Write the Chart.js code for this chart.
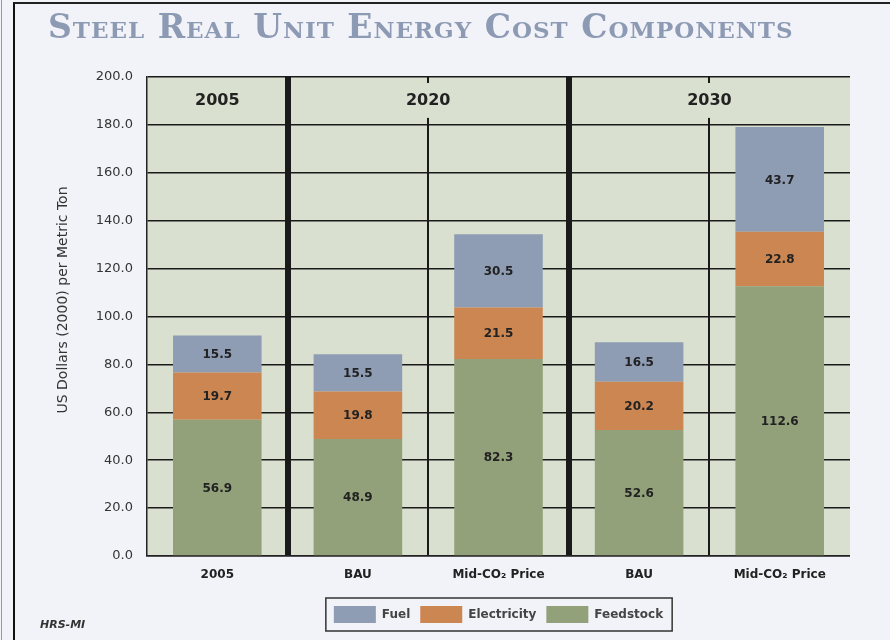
<!DOCTYPE html>
<html>
  <head>
    <meta charset="utf-8">
    <title>Steel Real Unit Energy Cost Components</title>
    <script src="https://cdn.jsdelivr.net/npm/chart.js"></script>
    <style>
      body { margin:0; background:#f2f3f8; }
      #wrap { position:relative; width:890px; height:640px; overflow:hidden; }
      #frame { position:absolute; left:13px; top:2px; width:877px; height:640px; border-left:2px solid #111; border-top:2px solid #222; }
      #edge { position:absolute; left:1px; top:0; width:1px; height:640px; background:#999; }
      #title { position:absolute; left:48px; top:7px; font-family:"DejaVu Serif"; font-weight:bold; font-variant:small-caps; font-size:33px; letter-spacing:1px; color:#8d9ab4; white-space:nowrap; }
      #source { position:absolute; left:40px; top:618px; font-family:"DejaVu Sans"; font-style:italic; font-weight:bold; font-size:11px; color:#333; }
      canvas { position:absolute; left:0; top:0; }
    </style>
  </head>
  <body>
  <div id="wrap">
    <div id="edge"></div>
    <div id="frame"></div>
    <canvas id="SteelChart" width="890" height="640"></canvas>
    <div id="title">Steel Real Unit Energy Cost Components</div>
    <div id="source">HRS-MI</div>
  </div>
  <script>
	var categories = ['2005', 'BAU', 'Mid-CO\u2082 Price', 'BAU', 'Mid-CO\u2082 Price'];
	var groups = ['2005', '2020', '2030'];
	var groupFirst = [0, 1, 3];
	var groupLast = [0, 2, 4];

	var feedstock = [56.9, 48.9, 82.3, 52.6, 112.6];
	var electricity = [19.7, 19.8, 21.5, 20.2, 22.8];
	var fuel = [15.5, 15.5, 30.5, 16.5, 43.7];

	var plotBg = '#d9e0cf';

	// plot background + group header labels + value labels + legend box
	var extras = {
		id : 'extras',
		beforeDraw : function(chart) {
			var a = chart.chartArea, ctx = chart.ctx;
			ctx.save();
			ctx.fillStyle = plotBg;
			ctx.fillRect(a.left, a.top, a.right - a.left, a.bottom - a.top);
			ctx.restore();
		},
		afterDatasetsDraw : function(chart) {
			var ctx = chart.ctx, x = chart.scales.x, y = chart.scales.y;
			ctx.save();
			// value labels
			ctx.font = 'bold 12px "DejaVu Sans"';
			ctx.fillStyle = '#222';
			ctx.textAlign = 'center';
			ctx.textBaseline = 'middle';
			chart.data.datasets.forEach(function(ds, di) {
				chart.getDatasetMeta(di).data.forEach(function(bar, i) {
					ctx.fillText(ds.data[i].toFixed(1), bar.x, (bar.y + bar.base) / 2 + 1);
				});
			});
			// group headers in the 180-200 band
			var yTop = y.getPixelForValue(200), yBot = y.getPixelForValue(180);
			var yMid = (yTop + yBot) / 2;
			ctx.font = 'bold 16px "DejaVu Sans"';
			groups.forEach(function(g, gi) {
				var cx = (x.getPixelForValue(groupFirst[gi]) + x.getPixelForValue(groupLast[gi])) / 2;
				var w = ctx.measureText(g).width + 16;
				ctx.fillStyle = plotBg;
				ctx.fillRect(cx - w / 2, yTop + 6, w, yBot - yTop - 13);
				ctx.fillStyle = '#222';
				ctx.fillText(g, cx, yMid);
			});
			// y axis title
			ctx.translate(63, 300);
			ctx.rotate(-Math.PI / 2);
			ctx.font = '14px "DejaVu Sans"';
			ctx.fillStyle = '#333';
			ctx.fillText('US Dollars (2000) per Metric Ton', 0, 0);
			ctx.restore();
		},
		afterDraw : function(chart) {
			var boxes = chart.legend.legendHitBoxes;
			if (!boxes || !boxes.length) return;
			var l = boxes[0].left, r = boxes[boxes.length - 1].left + boxes[boxes.length - 1].width;
			var t = boxes[0].top, h = boxes[0].height;
			var ctx = chart.ctx;
			ctx.save();
			ctx.strokeStyle = '#333';
			ctx.lineWidth = 1.5;
			ctx.strokeRect(l - 8, t - 8, r - l + 17, h + 16);
			ctx.restore();
		}
	};

	var xWidths = [0, 6, 2, 6, 2, 1.5];

	const steelConfig = {
		type : 'bar',
		data : {
			labels : categories,
			datasets : [ {
				label : 'Feedstock',
				backgroundColor : '#92a17a',
				data : feedstock
			}, {
				label : 'Electricity',
				backgroundColor : '#cc8652',
				data : electricity
			}, {
				label : 'Fuel',
				backgroundColor : '#8e9cb4',
				data : fuel
			}]
		},
		options : {
			responsive : false,
			animation : false,
			layout : { padding : { top : 77, left : 0, right : 40, bottom : 7 } },
			datasets : { bar : { categoryPercentage : 1, barPercentage : 0.63 } },
			scales : {
				x : {
					stacked : true,
					afterFit : function(s) { s.height = 40; },
					grid : {
						offset : true,
						drawTicks : false,
						color : '#1a1a1a',
						lineWidth : function(c) { return xWidths[c.index] || 0; }
					},
					border : { display : true, color : '#222', width : 1.5 },
					ticks : {
						padding : 12,
						maxRotation : 0,
						autoSkip : false,
						color : '#222',
						font : { family : 'DejaVu Sans', size : 12, weight : 'bold' }
					}
				},
				y : {
					stacked : true,
					min : 0,
					max : 200,
					afterFit : function(s) { s.width = 147; },
					grid : { drawTicks : false, color : '#1a1a1a', lineWidth : 1.5 },
					border : { display : true, color : '#222', width : 1.5 },
					ticks : {
						stepSize : 20,
						padding : 14,
						color : '#333',
						font : { family : 'DejaVu Sans', size : 13 },
						callback : function(v) { return v.toFixed(1); }
					}
				}
			},
			plugins : {
				tooltip : { enabled : false },
				legend : {
					position : 'bottom',
					fullSize : false,
					reverse : true,
					labels : {
						boxWidth : 42,
						boxHeight : 17,
						padding : 10,
						color : '#444',
						font : { family : 'DejaVu Sans', size : 12, weight : 'bold' }
					}
				}
			}
		},
		plugins : [ extras ]
	};
	const SteelChart = new Chart(document.getElementById('SteelChart'), steelConfig);
  </script>
  </body>
</html>
